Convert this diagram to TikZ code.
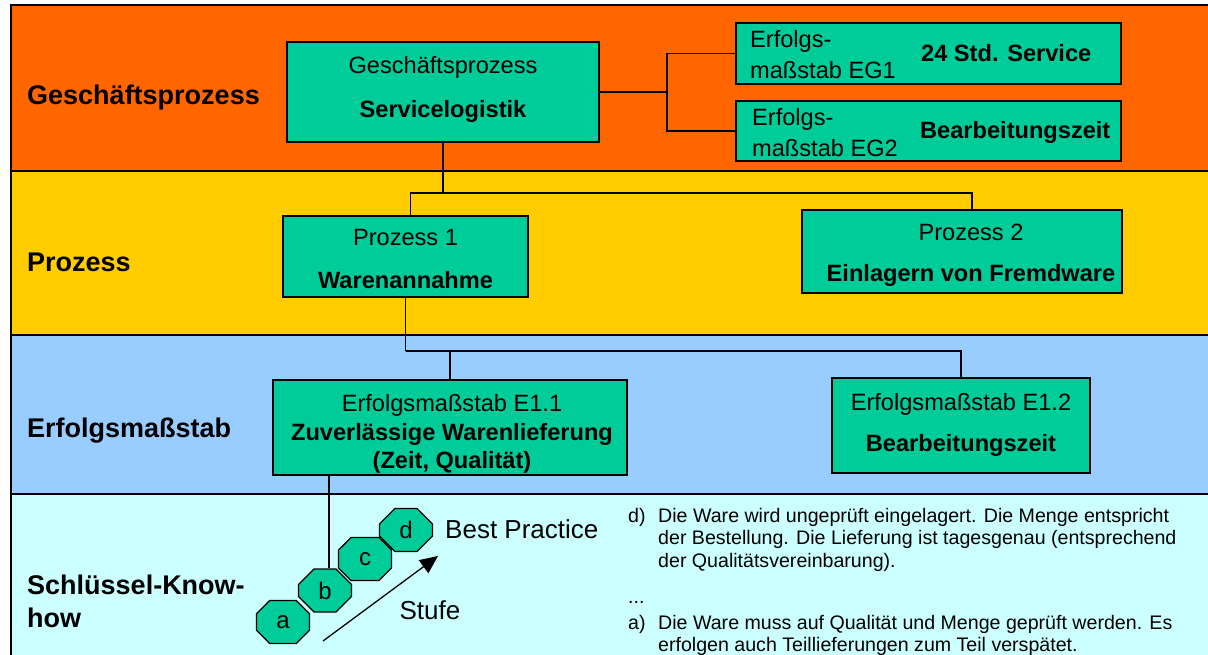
\documentclass[tikz,border=0pt]{standalone}
\usepackage{fontspec}
\setmainfont{Liberation Sans}
\usetikzlibrary{arrows.meta,shapes.misc}
\definecolor{geschorange}{HTML}{FF6600}
\definecolor{prozyellow}{HTML}{FFCC00}
\definecolor{massblue}{HTML}{99CCFF}
\definecolor{knowcyan}{HTML}{CCFFFF}
\definecolor{boxgreen}{HTML}{00CC99}
\tikzstyle{band} = [draw=black, line width=2.5pt]
\tikzstyle{procbox} = [draw=black, fill=boxgreen, line width=1.6pt, inner sep=0pt]
\tikzstyle{boxtext} = [inner sep=0pt, text height=17pt, text depth=0pt, font=\fontsize{23.6}{31}\selectfont]
\tikzstyle{boxbold} = [boxtext, font=\bfseries\fontsize{23.6}{31}\selectfont]
\tikzstyle{boxlines} = [inner sep=0pt, anchor=north west, align=left, font=\fontsize{23.6}{31}\selectfont]
\tikzstyle{levellabel} = [inner sep=0pt, anchor=west, text height=19.4pt, text depth=0pt, font=\bfseries\fontsize{27}{33}\selectfont]
\tikzstyle{levellines} = [inner sep=0pt, anchor=north west, align=left, font=\bfseries\fontsize{27}{33}\selectfont]
\tikzstyle{octa} = [chamfered rectangle, chamfered rectangle sep=13pt, draw=black, fill=boxgreen, line width=1.3pt, minimum width=53pt, minimum height=43pt, inner sep=0pt, font=\fontsize{24}{28}\selectfont]
\tikzstyle{conn} = [draw, line width=1.5pt]
\tikzstyle{bigtext} = [inner sep=0pt, text height=18.7pt, text depth=0pt, font=\fontsize{26}{30}\selectfont]
\tikzstyle{notetag} = [inner sep=0pt, anchor=west, text height=14.1pt, text depth=0pt, font=\fontsize{19.6}{22.5}\selectfont]
\tikzstyle{notetext} = [inner sep=0pt, anchor=north west, align=left, font=\fontsize{19.6}{22.5}\selectfont]

\begin{document}
\begin{tikzpicture}[x=1pt, y=-1pt]
\useasboundingbox (0,0) rectangle (1208,655);
\clip (0,0) rectangle (1208,655);
% bands
\path[band, fill=geschorange] (11,5) rectangle (1230,171);
\path[band, fill=prozyellow] (11,171) rectangle (1230,335);
\path[band, fill=massblue] (11,335) rectangle (1230,494);
\path[band, fill=knowcyan] (11,494) rectangle (1230,680);

\node[levellabel] (lvgesch) at (27,95) {Geschäftsprozess};
\node[levellabel] (lvproz) at (27,262) {Prozess};
\node[levellabel] (lvmass) at (27,428) {Erfolgsmaßstab};
\node[levellines] (lvknow) at (27,575) {Schlüssel-Know-\\how};

% boxes
\node[procbox, minimum width=312pt, minimum height=100pt] (gpbox) at (443,92) {};
\node[procbox, minimum width=385pt, minimum height=61pt] (eg1) at (928.5,53.5) {};
\node[procbox, minimum width=385pt, minimum height=60pt] (eg2) at (928.5,131) {};
\node[procbox, minimum width=245pt, minimum height=81pt] (p1) at (405.5,256.5) {};
\node[procbox, minimum width=320pt, minimum height=83pt] (p2) at (962,251.5) {};
\node[procbox, minimum width=354pt, minimum height=95pt] (e11) at (450,427.5) {};
\node[procbox, minimum width=258pt, minimum height=95pt] (e12) at (961,425.5) {};

\node[boxtext] (gpbox-top) at (443,65) {Geschäftsprozess};
\node[boxbold] (gpbox-name) at (443,109) {Servicelogistik};
\node[boxlines] (eg1-label) at (750,30.5) {Erfolgs-\\maßstab EG1};
\node[boxbold, anchor=west] (eg1-name) at (921,53) {24 Std. Service};
\node[boxlines] (eg2-label) at (752,108.5) {Erfolgs-\\maßstab EG2};
\node[boxbold, anchor=west] (eg2-name) at (920,130) {Bearbeitungszeit};
\node[boxtext] (p1-top) at (405.5,237) {Prozess 1};
\node[boxbold] (p1-name) at (405.5,280) {Warenannahme};
\node[boxtext] (p2-top) at (971,232) {Prozess 2};
\node[boxbold] (p2-name) at (971,273) {Einlagern von Fremdware};
\node[boxtext] (e11-top) at (452,403) {Erfolgsmaßstab E1.1};
\node[boxbold] (e11-name) at (452,432) {Zuverlässige Warenlieferung};
\node[boxbold] (e11-sub) at (452,460) {(Zeit, Qualität)};
\node[boxtext] (e12-top) at (961,402) {Erfolgsmaßstab E1.2};
\node[boxbold] (e12-name) at (961,443) {Bearbeitungszeit};

% connectors
\path[conn] (gpbox.east) -- ++(67,0) coordinate (gpfork);
\path[conn] (eg1.west) -| (gpfork) |- (eg2.west);
\path[conn] (gpbox.south) -- ++(0,50) coordinate (gpjoin);
\path[conn] ([xshift=5pt]p1.north) |- (gpjoin) -| ([xshift=10pt]p2.north);
\path[conn] (p1.south) -- ++(0,53) coordinate (p1join);
\path[conn] (e11.north) |- (p1join) -| (e12.north);

% stages
\foreach \stage/\px/\py in {a/283/622, b/325/590.5, c/365/559, d/406/530}
  \node[octa] (\stage) at (\px,\py) {\stage};
\path[conn] (e11.south -| b.north) ++(4,0) coordinate (e11foot);
\path[conn] (e11foot) -- (e11foot |- b.north);

\coordinate (stufe-tail) at (323,641);
\coordinate (stufe-head) at (438,556);
\draw[line width=1.3pt, -{Triangle[length=18pt,width=16pt]}] (stufe-tail) -- (stufe-head);
\node[bigtext] (stufe) at (430,610) {Stufe};
\node[bigtext, anchor=west] (bestpractice) at (445,529) {Best Practice};

% notes
\node[notetag] (d-tag) at (628,515) {d)};
\node[notetext] (d-note) at (658,508) {Die Ware wird ungeprüft eingelagert. Die Menge entspricht\\der Bestellung. Die Lieferung ist tagesgenau (entsprechend\\der Qualitätsvereinbarung).};
\node[notetag] (dots) at (628,596) {...};
\node[notetag] (a-tag) at (628,622) {a)};
\node[notetext] (a-note) at (658,615) {Die Ware muss auf Qualität und Menge geprüft werden. Es\\erfolgen auch Teillieferungen zum Teil verspätet.};
\end{tikzpicture}
\end{document}
